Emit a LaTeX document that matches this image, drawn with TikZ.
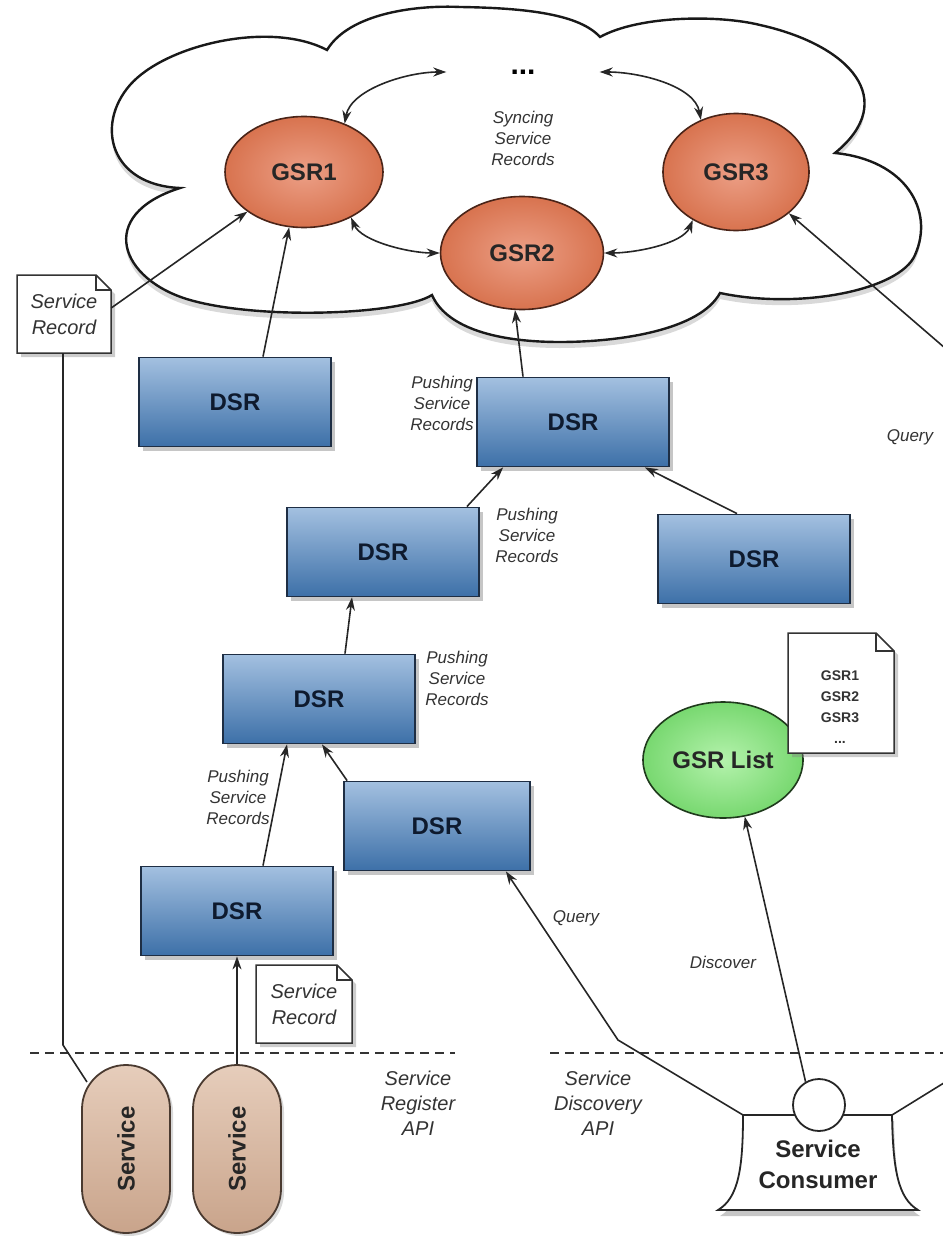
\documentclass[tikz,border=0pt]{standalone}
\usepackage{fontspec}
\setmainfont{Liberation Sans}
\usetikzlibrary{arrows.meta,shadows,shapes.geometric,calc}
\definecolor{dsrtop}{HTML}{A3C0E0}
\definecolor{dsrbot}{HTML}{3D70A8}
\definecolor{dsredge}{HTML}{1E2E44}
\definecolor{dsrtext}{HTML}{0E1A2E}
\definecolor{gsrin}{HTML}{EC9F86}
\definecolor{gsrout}{HTML}{D8734F}
\definecolor{gsredge}{HTML}{4A2418}
\definecolor{listin}{HTML}{B4F2AC}
\definecolor{listout}{HTML}{78D870}
\definecolor{listedge}{HTML}{1F3A1C}
\definecolor{pilltop}{HTML}{E6CDBB}
\definecolor{pillbot}{HTML}{C9A48B}
\definecolor{pilledge}{HTML}{4A3A30}
\definecolor{labelgray}{HTML}{333333}
\newcommand\docframe[5]{%
  \draw[docline] (#1-#3,#2-#4) -- (#1+#3-#5,#2-#4) -- (#1+#3,#2-#4+#5) -- (#1+#3,#2+#4) -- (#1-#3,#2+#4) -- cycle;
  \draw[line width=1.2pt, black!80] (#1+#3-#5,#2-#4) |- (#1+#3,#2-#4+#5);}
\begin{document}
\begin{tikzpicture}[x=1pt,y=-1pt,
  conn/.style={line width=1.6pt, draw=black!85, -{Stealth[length=13pt,width=9pt]}},
  dconn/.style={line width=1.6pt, draw=black!85, {Stealth[length=13pt,width=9pt]}-{Stealth[length=13pt,width=9pt]}},
  plain/.style={line width=1.6pt, draw=black!85},
  dsr/.style={rectangle, draw=dsredge, line width=1.8pt, top color=dsrtop, bottom color=dsrbot,
    minimum width=192pt, minimum height=89pt, inner sep=0pt,
    font=\fontsize{24}{28}\selectfont\bfseries, text=dsrtext,
    drop shadow={opacity=0.45, shadow xshift=4pt, shadow yshift=-4pt}},
  gsr/.style={ellipse, draw=gsredge, line width=1.6pt, inner color=gsrin, outer color=gsrout,
    inner sep=0pt, font=\fontsize{24}{28}\selectfont\bfseries, text=black!85},
  lbl/.style={font=\fontsize{17}{21}\selectfont\itshape, text=labelgray, align=center},
  doctext/.style={font=\fontsize{20}{26}\selectfont\itshape, text=black!80, align=center},
  apitext/.style={font=\fontsize{20}{25}\selectfont\itshape, text=labelgray, align=center},
  docline/.style={line width=1.5pt, draw=black!80, fill=white,
    drop shadow={opacity=0.4, shadow xshift=4pt, shadow yshift=-4pt}},
  pill/.style={rectangle, rounded corners=44pt, draw=pilledge, line width=1.8pt,
    top color=pilltop, bottom color=pillbot, minimum width=88pt, minimum height=168pt,
    inner sep=0pt, font=\fontsize{24}{28}\selectfont\bfseries, text=black!85,
    drop shadow={opacity=0.3, shadow xshift=3pt, shadow yshift=-3pt}},
  dashline/.style={line width=1.6pt, draw=black!80, dash pattern=on 9pt off 6pt}
]
\useasboundingbox (0,0) rectangle (942,1236);

% cloud
\draw[line width=2.4pt, draw=black!90, fill=white,
  drop shadow={opacity=0.3, shadow xshift=0pt, shadow yshift=-6pt}]
  (180,188) .. controls (110,185) and (95,125) .. (130,85)
  .. controls (165,45) and (270,20) .. (327,50)
  .. controls (350,12) and (420,5) .. (460,7)
  .. controls (530,8) and (580,15) .. (600,37)
  .. controls (640,15) and (720,15) .. (760,25)
  .. controls (850,45) and (900,100) .. (835,153)
  .. controls (905,160) and (935,210) .. (915,255)
  .. controls (900,290) and (800,310) .. (720,293)
  .. controls (700,330) and (620,342) .. (560,342)
  .. controls (490,342) and (445,325) .. (432,295)
  .. controls (400,315) and (260,320) .. (190,300)
  .. controls (120,280) and (95,215) .. (180,188) -- cycle;

% dashed API lines
\draw[dashline] (30,1053) -- (455,1053);
\draw[dashline] (550,1053) -- (950,1053);

% GSR nodes
\node[gsr, minimum width=158pt, minimum height=111pt] (gsr1) at (304,172) {GSR1};
\node[gsr, minimum width=163pt, minimum height=113pt] (gsr2) at (522,253) {GSR2};
\node[gsr, minimum width=146pt, minimum height=117pt] (gsr3) at (736,172) {GSR3};
\node[font=\fontsize{30}{30}\selectfont\bfseries, minimum width=153pt, inner sep=0pt] (dots) at (523,72) {...};
\node[lbl] (sync) at (523,138) {Syncing\\Service\\Records};

% DSR nodes
\node[dsr] (dsrA) at (235,402) {DSR};
\node[dsr] (dsrB) at (573,422) {DSR};
\node[dsr] (dsrC) at (383,552) {DSR};
\node[dsr] (dsrD) at (754,559) {DSR};
\node[dsr] (dsrE) at (319,699) {DSR};
\node[dsr, minimum width=186pt] (dsrF) at (437,826) {DSR};
\node[dsr] (dsrG) at (237,911) {DSR};

% pushing labels
\node[lbl] (push1) at (442,403) {Pushing\\Service\\Records};
\node[lbl] (push2) at (527,535) {Pushing\\Service\\Records};
\node[lbl] (push3) at (457,678) {Pushing\\Service\\Records};
\node[lbl] (push4) at (238,797) {Pushing\\Service\\Records};

% service record docs
\docframe{64}{314}{47}{39}{15}
\node[doctext, minimum width=94pt, minimum height=78pt, inner sep=0pt] (rec1) at (64,314) {Service\\Record};
\docframe{304}{1004}{48}{39}{15}
\node[doctext, minimum width=96pt, minimum height=78pt, inner sep=0pt] (rec2) at (304,1004) {Service\\Record};

% GSR list
\node[ellipse, draw=listedge, line width=1.6pt, inner color=listin, outer color=listout,
  minimum width=160pt, minimum height=116pt, inner sep=0pt,
  font=\fontsize{24}{28}\selectfont\bfseries, text=black!85] (gsrlist) at (723,760) {GSR List};
\docframe{841}{693}{53}{60}{18}
\node[font=\fontsize{14}{21}\selectfont\bfseries, text=black!80, align=center] (gsrtxt) at (840,707) {GSR1\\GSR2\\GSR3\\...};

% services
\node[pill] (svc1) at (126,1149) {\rotatebox{90}{Service}};
\node[pill] (svc2) at (237,1149) {\rotatebox{90}{Service}};

% service consumer
\coordinate (ctl) at (743,1115);
\coordinate (ctr) at (892,1115);
\coordinate (cbl) at (718,1210);
\coordinate (cbr) at (918,1210);
\draw[line width=1.8pt, draw=black!85, fill=white,
  drop shadow={opacity=0.45, shadow xshift=2pt, shadow yshift=-6pt}]
  (ctl) -- (ctr) .. controls (893,1170) and (898,1198) .. (cbr) -- (cbl)
  .. controls (738,1198) and (743,1170) .. (ctl) -- cycle;
\node[circle, draw=black!85, line width=1.8pt, fill=white, minimum size=52pt, inner sep=0pt] (ccirc) at (819,1105) {};
\node[font=\fontsize{24}{31}\selectfont\bfseries, text=black!85, align=center] (consumer) at (818,1164) {Service\\Consumer};

% API labels
\node[apitext] (regapi) at (418,1103) {Service\\Register\\API};
\node[apitext] (discapi) at (598,1103) {Service\\Discovery\\API};

% other labels
\node[lbl] (query1) at (910,437) {Query};
\node[lbl] (query2) at (576,918) {Query};
\node[lbl] (discover) at (723,962) {Discover};

% syncing arrows
\draw[dconn] (gsr1.50) .. controls +(6pt,34pt) and +(-40pt,0pt) .. (dots.west);
\draw[dconn] (dots.east) .. controls +(40pt,0pt) and +(-6pt,34pt) .. (gsr3.124);
\draw[dconn] (gsr1.-44) .. controls +(10pt,-24pt) and +(-30pt,0pt) .. (gsr2.west);
\draw[dconn] (gsr2.east) .. controls +(30pt,0pt) and +(-10pt,-24pt) .. (gsr3.-132);

% push arrows
\draw[conn] ([xshift=28pt]dsrA.north) -- (gsr1.-105);
\draw[conn] ([yshift=6pt]rec1.east) -- (gsr1.-145);
\draw[conn] ([xshift=-50pt]dsrB.north) -- (gsr2.-97);
\draw[conn] ([xshift=-13pt]dsrC.north east) -- ([xshift=27pt]dsrB.south west);
\draw[conn] ([xshift=-17pt]dsrD.north) -- ([xshift=-25pt]dsrB.south east);
\draw[conn] ([xshift=26pt]dsrE.north) -- ([xshift=-31pt]dsrC.south);
\draw[conn] ([xshift=26pt]dsrG.north) -- ([xshift=-32pt]dsrE.south);
\draw[conn] ([xshift=4pt]dsrF.north west) -- ([xshift=3pt]dsrE.south);
\draw[conn] (svc2.north) -- (dsrG.south);
\draw[plain] ([shift={(-39pt,67pt)}]svc1.center) -- (63,1045) -- (rec1.south -| 63,0);

% query / discover
\draw[conn] (ctl) -- (618,1040) -- ([xshift=-25pt]dsrF.south east);
\draw[conn] (ccirc.120) -- (gsrlist.-69);
\draw[conn] (ctr) -- (960,1073) -- (960,361) -- (gsr3.-38);
\end{tikzpicture}
\end{document}
